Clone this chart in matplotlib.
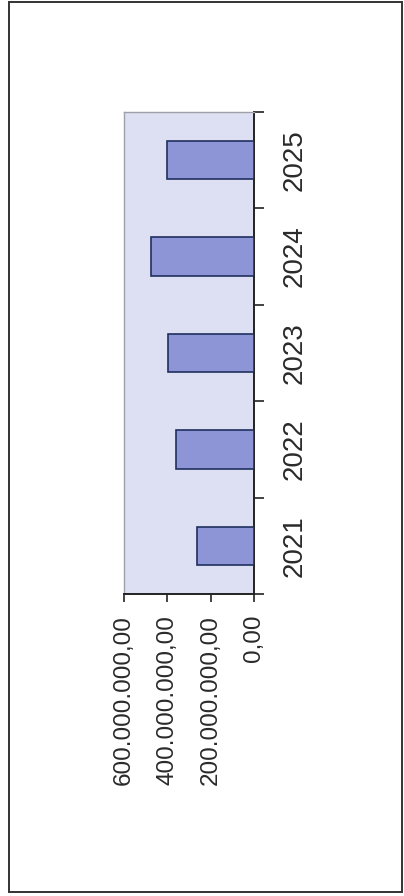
# %% import modules
import numpy as np
import matplotlib.pyplot as plt
from matplotlib.ticker import FuncFormatter, FixedLocator

# %% data
years = ["2021", "2022", "2023", "2024", "2025"]
values = [265e6, 358e6, 395e6, 474e6, 400e6]
value_ticks = [0, 200e6, 400e6, 600e6]

plt.rcParams['font.family'] = ['Liberation Sans', 'DejaVu Sans']

# german style number format, e.g. 600.000.000,00
def de_fmt(v, pos=None):
    s = f"{v:,.2f}"
    return s.replace(",", "X").replace(".", ",").replace("X", ".")

# %% figure
fig = plt.figure(figsize=(4.04, 8.96), dpi=100)
fig.patch.set_facecolor("white")

# outer frame
frame = plt.Rectangle((9 / 404, 4 / 896), 393 / 404, 890 / 896,
                      transform=fig.transFigure, fill=False,
                      edgecolor="#333333", linewidth=1.4)
fig.add_artist(frame)

ax = fig.add_axes([124 / 404, (896 - 594) / 896, 130 / 404, 482 / 896])
ax.set_facecolor("#dde0f2")

pos = np.arange(len(years))
ax.barh(pos, values, height=0.4, color="#8e95d6",
        edgecolor="#1f2f5e", linewidth=1.2, zorder=3)

ax.set_xlim(600e6, 0)
ax.set_ylim(-0.5, len(years) - 0.5)

# value axis at the bottom, labels rotated
ax.xaxis.set_major_locator(FixedLocator(value_ticks))
ax.xaxis.set_major_formatter(FuncFormatter(de_fmt))
ax.tick_params(axis="x", direction="out", length=6, width=1.2,
               color="#222222", pad=9, labelsize=17.5, rotation=90,
               labelcolor="#2a2a2a")
for lab in ax.get_xticklabels():
    lab.set_va("top")

# category axis on the right side
ax.yaxis.tick_right()
ax.set_yticks(pos)
ax.set_yticklabels(years)
ax.set_yticks(np.arange(-0.5, len(years)), minor=True)
ax.tick_params(axis="y", which="major", length=0, pad=20,
               labelsize=20, labelcolor="#2a2a2a")
for lab in ax.get_yticklabels():
    lab.set_rotation(90)
    lab.set_va("center")
    lab.set_ha("left")
ax.tick_params(axis="y", which="minor", direction="out", length=7,
               width=1.2, color="#222222")

for side in ["top", "left"]:
    ax.spines[side].set_color("#a0a0a8")
    ax.spines[side].set_linewidth(1.0)
for side in ["bottom", "right"]:
    ax.spines[side].set_color("#222222")
    ax.spines[side].set_linewidth(1.4)

fig.savefig("out.png", dpi=100)
